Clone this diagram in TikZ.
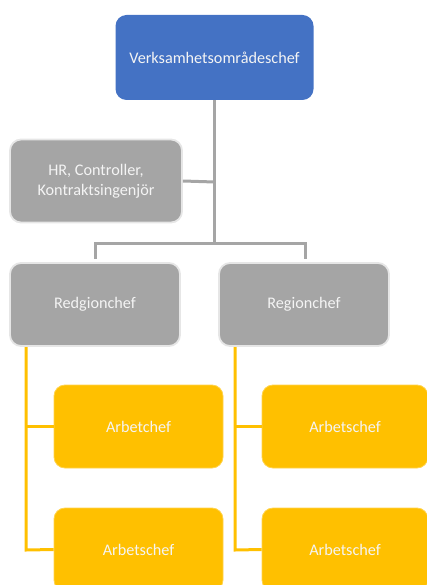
\documentclass[tikz,border=0pt]{standalone}
\usepackage{fontspec}
\setmainfont{Carlito}
\definecolor{blueb}{HTML}{4472C4}
\definecolor{grayb}{HTML}{A5A5A5}
\definecolor{grayedge}{HTML}{E6E6E6}
\definecolor{yelb}{HTML}{FFC000}
\definecolor{txt}{HTML}{F4F4F4}
\begin{document}
\begin{tikzpicture}[x=1pt,y=-1pt,
  box/.style={rounded corners=11pt, text=txt, align=center, inner sep=0pt,
    font=\fontsize{16.2}{20}\selectfont},
  bluebox/.style={box, fill=blueb, minimum width=198pt, minimum height=85pt},
  graybox/.style={box, fill=grayb, draw=grayedge, line width=1.8pt, minimum width=170pt, minimum height=83pt},
  yelbox/.style={box, fill=yelb, draw=yelb!70!white, line width=0.8pt, minimum width=169pt, minimum height=83pt},
  gline/.style={draw=grayb, line width=3pt},
  yline/.style={draw=yelb, line width=3pt}]
\useasboundingbox (0,0) rectangle (427,585);
\clip (0,0) rectangle (427,585);
\node[bluebox] (top) at (214.5,57.5) {Verksamhetsområdeschef};
\node[graybox, minimum width=172pt] (hr) at (96,181) {HR, Controller,\\Kontraktsingenjör};
\node[graybox] (r1) at (95,304.5) {Redgionchef};
\node[graybox] (r2) at (304,304.5) {Regionchef};
\node[yelbox] (a1) at (138.5,426.5) {Arbetchef};
\node[yelbox] (a2) at (138.5,549.5) {Arbetschef};
\node[yelbox, minimum width=166pt] (a3) at (345,426.5) {Arbetschef};
\node[yelbox, minimum width=166pt] (a4) at (345,549.5) {Arbetschef};
% gray connectors
\coordinate (jc) at (214.5,243);
\coordinate (hrj) at (214.5,182);
\coordinate (jl) at (95,243);
\coordinate (jr) at (305,243);
\coordinate (jle) at (95,259);
\coordinate (jre) at (305,259);
\draw[gline] (top.south) -- (jc);
\draw[gline] (hr.east) -- (hrj);
\draw[gline] (jle) -- (jl) -- (jr) -- (jre);
% yellow connectors
\coordinate (ys1) at (26,347);
\coordinate (yb1) at (26,550);
\coordinate (ys2) at (235,347);
\coordinate (yb2) at (235,550);
\draw[yline] (ys1) -- (yb1) -- (a2.west);
\draw[yline] (ys1 |- a1.west) -- (a1.west);
\draw[yline] (ys2) -- (yb2) -- (a4.west);
\draw[yline] (ys2 |- a3.west) -- (a3.west);
\end{tikzpicture}
\end{document}
